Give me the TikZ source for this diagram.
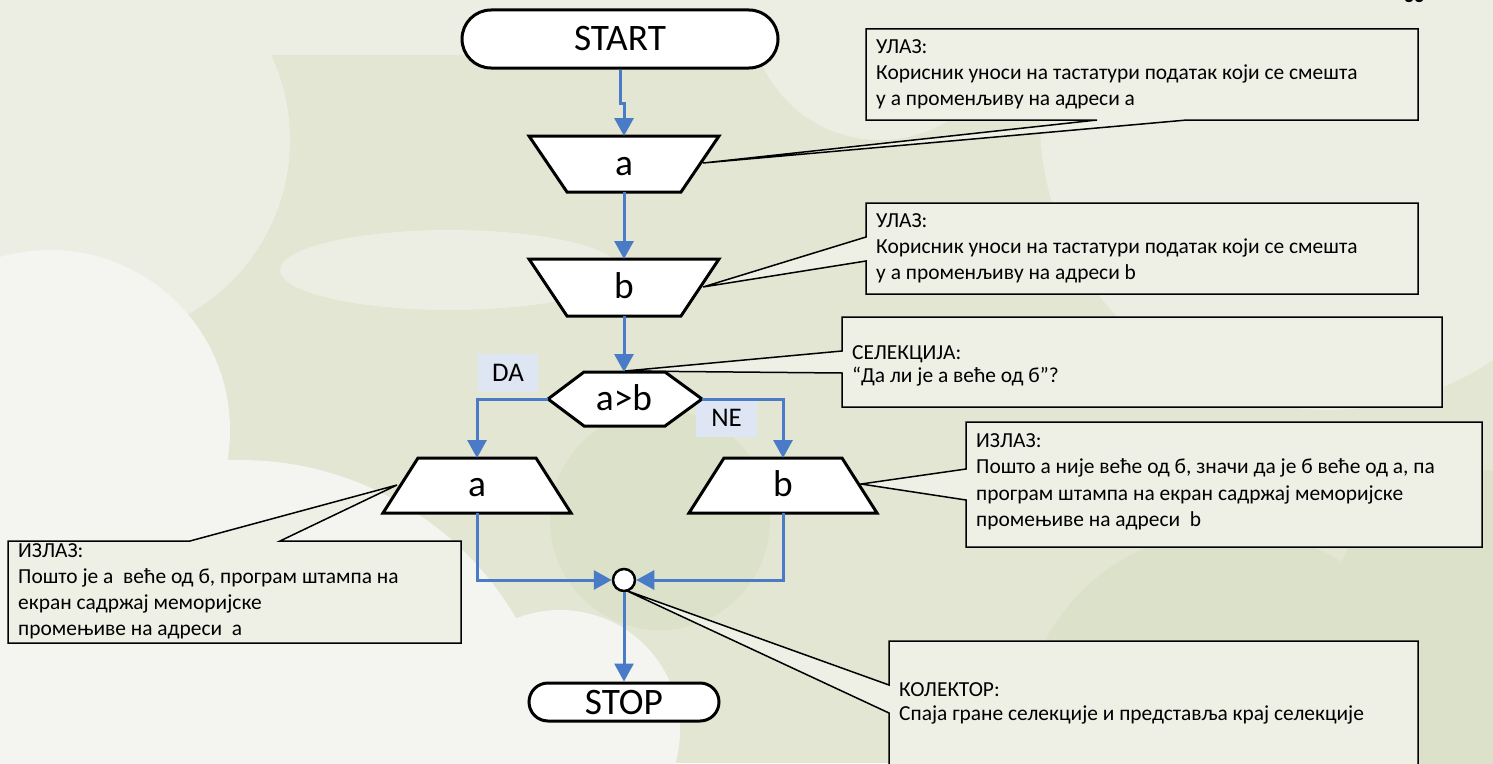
\documentclass[tikz,border=0pt]{standalone}
\usepackage{fontspec}
\setmainfont{Carlito}
\usetikzlibrary{shapes.misc,arrows.meta}
\definecolor{bgbase}{HTML}{E2E6D2}
\definecolor{bglight}{HTML}{ECEEE3}
\definecolor{bgwhite}{HTML}{F4F5F0}
\definecolor{bgdark}{HTML}{DCE1CA}
\definecolor{callfill}{HTML}{EEEFE5}
\definecolor{flowblue}{HTML}{4A7BC6}
\definecolor{lblfill}{HTML}{DEE6F3}
\begin{document}
\begin{tikzpicture}[x=1bp,y=-1bp,
  shp/.style={draw=black,line width=3bp,fill=white,line join=miter},
  flow/.style={draw=flowblue,line width=3bp,-{Triangle[length=18bp,width=19bp]}},
  cbox/.style={draw=black,line width=1.5bp,fill=callfill,line join=miter},
  ctext/.style={anchor=north west,inner sep=0pt,align=left},
  big/.style={font=\fontsize{37.5}{42}\selectfont},
  lbl/.style={fill=lblfill,inner sep=0pt,font=\fontsize{27}{30}\selectfont}]
\useasboundingbox (0,0) rectangle (1493,763);
\clip (0,0) rectangle (1493,763);
% background
\fill[bgbase] (0,0) rectangle (1493,763);
\fill[bglight] (0,0) rectangle (1493,55);
\fill[bglight] (90,140) circle (200);
\fill[bglight] (1330,120) circle (290);
\fill[bglight] (880,10) circle (130);
\fill[bglight] (450,270) ellipse (170 and 40);
\fill[bgwhite] (50,430) circle (180);
\fill[bgwhite] (240,780) circle (320);
\fill[bgwhite] (560,730) circle (120);
\fill[bgdark] (1230,740) circle (210);
\fill[bgdark] (1480,620) circle (150);
\fill[bgdark] (660,520) circle (110);
% page number (cut off at the top edge, as in the reference)
\node[anchor=base,inner sep=0pt,font=\fontsize{20}{24}\selectfont\bfseries] (pg) at (1414,3) {33};
% callouts
\draw[cbox] (866,29)--(1418,29)--(1418,120)--(1187,120)--(703,163)--(1097,120)--(866,120)--cycle;
\node[ctext,font=\fontsize{21.5}{26.5}\selectfont] (c1) at (876,34.45) {\strut УЛАЗ:\\Корисник уноси на тастатури податак који се смешта\\у а променљиву на адреси а};
\draw[cbox] (866,203)--(1418,203)--(1418,294)--(866,294)--(866,261)--(703,287)--(866,237)--cycle;
\node[ctext,font=\fontsize{21.5}{26.5}\selectfont] (c2) at (876,208.45) {\strut УЛАЗ:\\Корисник уноси на тастатури податак који се смешта\\у а променљиву на адреси b};
\draw[cbox] (842,317)--(1442,317)--(1442,407)--(842,407)--(842,373)--(625,371)--(842,351)--cycle;
\node[ctext,font=\fontsize{21.5}{23.5}\selectfont] (c3) at (852,342.55) {\strut СЕЛЕКЦИЈА:\\“Да ли је а веће од б”?};
\draw[cbox] (966,422)--(1482,422)--(1482,547)--(966,547)--(966,500)--(861,484)--(966,469)--cycle;
\node[ctext,font=\fontsize{21.5}{26.7}\selectfont] (c4) at (976,428.3) {\strut ИЗЛАЗ:\\Пошто а није веће од б, значи да је б веће од а, па\\програм штампа на екран садржај меморијске\\промењиве на адреси~ b};
\draw[cbox] (8,541)--(190,541)--(397,485)--(280,541)--(461,541)--(461,643)--(8,643)--cycle;
\node[ctext,font=\fontsize{21.5}{26}\selectfont] (c5) at (18,539) {\strut ИЗЛАЗ:\\Пошто је а~ веће од б, програм штампа на\\екран садржај меморијске\\промењиве на адреси~ а};
\draw[cbox] (889,641)--(1418,641)--(1418,775)--(889,775)--(889,713)--(625,590)--(889,685)--cycle;
\node[ctext,font=\fontsize{21.5}{24.5}\selectfont] (c6) at (899,678.85) {\strut КОЛЕКТОР:\\Спаја гране селекције и представља крај селекције};
% branch labels
\node[lbl,minimum width=60bp,minimum height=38bp] (da) at (508,373) {DA};
\node[lbl,minimum width=61bp,minimum height=38bp] (ne) at (726.5,418) {NE};
% flow shapes
\node[shp,rounded rectangle,minimum width=316bp,minimum height=58bp,inner sep=0pt,big] (start) at (620,39) {START};
\draw[shp] (529,136)--(719,136)--(681,192)--(567,192)--cycle;
\node[anchor=base,inner sep=0pt,big] (ina) at (624,175) {a};
\draw[shp] (529,259)--(719,259)--(681,316)--(567,316)--cycle;
\node[anchor=base,inner sep=0pt,big] (inb) at (624,298) {b};
\draw[shp] (548,399)--(584,372)--(665,372)--(702,399)--(665,426)--(584,426)--cycle;
\node[anchor=base,inner sep=0pt,big] (cond) at (624,410) {a>b};
\draw[shp] (418,458)--(536,458)--(571,513)--(383,513)--cycle;
\node[anchor=base,inner sep=0pt,big] (outa) at (477,496) {a};
\draw[shp] (724,458)--(842,458)--(877,513)--(689,513)--cycle;
\node[anchor=base,inner sep=0pt,big] (outb) at (783,496) {b};
\node[draw=black,line width=2.5bp,fill=white,circle,minimum size=22bp,inner sep=0pt] (col) at (624,580) {};
\node[shp,rounded rectangle,minimum width=190bp,minimum height=38bp,inner sep=0pt,big] (stop) at (624,702) {STOP};
% connector anchor points
\coordinate (inA-n) at (624,136);
\coordinate (inA-s) at (624,192);
\coordinate (inB-n) at (624,259);
\coordinate (inB-s) at (624,316);
\coordinate (hex-n) at (624,372);
\coordinate (hex-w) at (548,399);
\coordinate (hex-e) at (702,399);
\coordinate (outA-n) at (477,458);
\coordinate (outA-s) at (477,513);
\coordinate (outB-n) at (783,458);
\coordinate (outB-s) at (783,513);
% connectors
\draw[flow] (start.south) -- ++(0,34) -| (inA-n);
\draw[flow] (inA-s) -- (inB-n);
\draw[flow] (inB-s) -- (hex-n);
\draw[flow] (hex-w) -| (outA-n);
\draw[flow] (hex-e) -| (outB-n);
\draw[flow] (outA-s) |- (col.west);
\draw[flow] (outB-s) |- (col.east);
\draw[flow] (col.south) -- (stop.north);
\end{tikzpicture}
\end{document}
